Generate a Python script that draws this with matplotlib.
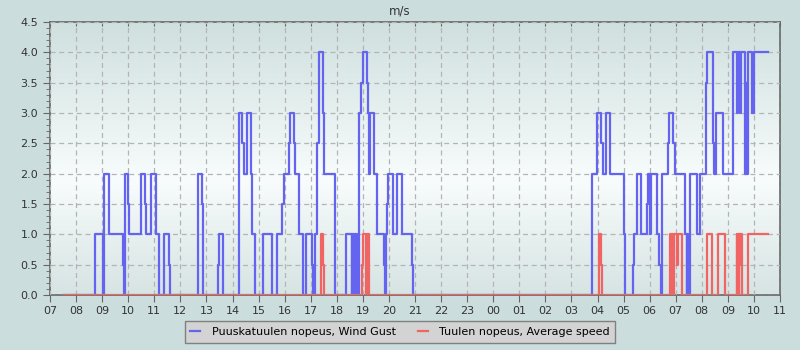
import numpy as np
import pandas as pd
import matplotlib
matplotlib.use("Agg")
import matplotlib.pyplot as plt
import matplotlib.dates as mdates
from matplotlib.colors import LinearSegmentedColormap
from matplotlib.ticker import MultipleLocator

# step data: "DD HH:MM" (day 01 / 02) and value in m/s
gust_times = [
    "01 07:32", "01 08:43", "01 09:02", "01 09:05", "01 09:16", "01 09:48", "01 09:50",
    "01 09:52", "01 10:00", "01 10:02", "01 10:30", "01 10:39", "01 10:42", "01 10:53",
    "01 11:04", "01 11:10", "01 11:23", "01 11:33", "01 11:36", "01 12:41", "01 12:50",
    "01 12:53", "01 13:26", "01 13:28", "01 13:38", "01 14:14", "01 14:23", "01 14:26",
    "01 14:33", "01 14:43", "01 14:45", "01 14:52", "01 15:10", "01 15:31", "01 15:42",
    "01 15:55", "01 15:59", "01 16:10", "01 16:12", "01 16:22", "01 16:24", "01 16:33",
    "01 16:43", "01 16:48", "01 17:02", "01 17:05", "01 17:11", "01 17:15", "01 17:18",
    "01 17:29", "01 17:31", "01 17:57", "01 18:22", "01 18:34", "01 18:36", "01 18:40",
    "01 18:42", "01 18:47", "01 18:50", "01 18:52", "01 18:56", "01 19:00", "01 19:09",
    "01 19:11", "01 19:13", "01 19:16", "01 19:26", "01 19:33", "01 19:49", "01 19:51",
    "01 19:53", "01 19:56", "01 19:59", "01 20:10", "01 20:19", "01 20:30", "01 20:53",
    "01 20:56",
    "02 03:48", "02 03:58", "02 04:09", "02 04:12", "02 04:19", "02 04:29", "02 05:00",
    "02 05:04", "02 05:21", "02 05:24", "02 05:30", "02 05:40", "02 05:54", "02 05:57",
    "02 06:01", "02 06:03", "02 06:17", "02 06:22", "02 06:25", "02 06:29", "02 06:43",
    "02 06:45", "02 06:54", "02 06:58", "02 07:21", "02 07:25", "02 07:27", "02 07:29",
    "02 07:32", "02 07:49", "02 07:55", "02 08:09", "02 08:12", "02 08:26", "02 08:28",
    "02 08:32", "02 08:49", "02 09:12", "02 09:22", "02 09:24", "02 09:27", "02 09:30",
    "02 09:40", "02 09:42", "02 09:44", "02 09:46", "02 09:55", "02 10:00", "02 10:32",
]
gust_values = [
    0, 1.0, 0, 2.0, 1.0, 0.5, 0,
    2.0, 1.5, 1.0, 2.0, 1.5, 1.0, 2.0,
    1.0, 0, 1.0, 0.5, 0, 2.0, 1.5,
    0, 0.5, 1.0, 0, 3.0, 2.5, 2.0,
    3.0, 2.0, 1.0, 0, 1.0, 0, 1.0,
    1.5, 2.0, 2.5, 3.0, 2.5, 2.0, 1.0,
    0, 1.0, 0.5, 0, 1.0, 2.5, 4.0,
    3.0, 2.0, 0, 1.0, 0, 1.0, 0,
    1.0, 0, 1.0, 3.0, 3.5, 4.0, 3.5,
    3.0, 2.0, 3.0, 2.0, 1.0, 0.5, 0,
    1.0, 1.5, 2.0, 1.0, 2.0, 1.0, 0.5,
    0,
    2.0, 3.0, 2.5, 2.0, 3.0, 2.0, 1.0,
    0, 0.5, 1.0, 2.0, 1.0, 1.5, 2.0,
    1.0, 2.0, 1.0, 0.5, 0, 2.0, 2.5,
    3.0, 2.5, 2.0, 1.0, 0, 1.0, 0,
    2.0, 1.0, 2.0, 3.5, 4.0, 2.5, 2.0,
    3.0, 2.0, 4.0, 3.0, 4.0, 3.0, 4.0,
    2.0, 3.5, 2.0, 4.0, 3.0, 4.0, 4.0,
]

avg_times = [
    "01 07:32", "01 17:24", "01 17:28", "01 17:31", "01 18:57", "01 19:00", "01 19:07",
    "01 19:09", "01 19:14", "02 04:04", "02 04:08", "02 04:11", "02 06:47", "02 06:49",
    "02 06:51", "02 06:53", "02 06:56", "02 07:03", "02 07:05", "02 07:14", "02 08:11",
    "02 08:24", "02 08:37", "02 08:38", "02 08:54", "02 09:20", "02 09:22", "02 09:23",
    "02 09:25", "02 09:26", "02 09:27", "02 09:29", "02 09:33", "02 09:46", "02 10:32",
]
avg_values = [
    0, 1.0, 0.5, 0, 0.5, 1.0, 0,
    1.0, 0, 1.0, 0.5, 0, 1.0, 0,
    1.0, 0, 1.0, 0.5, 1.0, 0, 1.0,
    0, 0.5, 1.0, 0, 1.0, 0, 1.0,
    0, 1.0, 0.5, 1.0, 0, 1.0, 1.0,
]

labels = ["Puuskatuulen nopeus, Wind Gust", "Tuulen nopeus, Average speed"]


def parse(ts):
    return pd.to_datetime(["2024-05-" + t for t in ts])


fig = plt.figure(figsize=(8, 3.5), dpi=100, facecolor="#cbdedd")
ax = fig.add_axes([50 / 800, 55 / 350, 730 / 800, 273 / 350])

# vertical background gradient of the plot area
cmap = LinearSegmentedColormap.from_list(
    "bg", [(0, "#d6e4e3"), (0.42, "#f8fcfc"), (1, "#cfe0df")])
grad = np.linspace(0, 1, 256).reshape(-1, 1)
ax.imshow(grad, extent=[0, 1, 0, 1], transform=ax.transAxes, aspect="auto",
          cmap=cmap, origin="lower", zorder=0)

ax.step(parse(gust_times), gust_values, where="post", color="#6464f0", lw=1.6,
        label=labels[0], zorder=3)
ax.step(parse(avg_times), avg_values, where="post", color="#f06464", lw=1.6,
        label=labels[1], zorder=4)

ax.set_xlim(pd.Timestamp("2024-05-01 07:00"), pd.Timestamp("2024-05-02 11:00"))
ax.set_ylim(0, 4.5)
ax.xaxis.set_major_locator(mdates.HourLocator())
ax.xaxis.set_major_formatter(mdates.DateFormatter("%H"))
ax.yaxis.set_major_locator(MultipleLocator(0.5))
ax.yaxis.set_minor_locator(MultipleLocator(0.1))
ax.yaxis.set_major_formatter(plt.FormatStrFormatter("%.1f"))

ax.grid(True, which="major", color="#b4b4b4", ls=(0, (4, 3)), lw=0.9, zorder=1)
ax.set_axisbelow(False)
for s in ax.spines.values():
    s.set_color("#666666")
    s.set_linewidth(1.2)
ax.tick_params(axis="both", which="major", labelsize=8, colors="#666666",
               labelcolor="#333333", length=5)
ax.tick_params(axis="y", which="minor", length=3, colors="#666666")
ax.tick_params(axis="x", which="major", pad=3)

# short hour ticks along the top edge, pointing inwards
top = ax.secondary_xaxis("top")
top.xaxis.set_major_locator(mdates.HourLocator())
top.tick_params(direction="in", length=3, colors="#666666", labeltop=False)
top.spines["top"].set_visible(False)

fig.text(0.5, 0.97, "m/s", ha="center", va="center", fontsize=8.5, color="#333333")

leg = fig.legend(loc="center", bbox_to_anchor=(400 / 800, 1 - 332 / 350), ncol=2,
                 fontsize=8, frameon=True, fancybox=False, handlelength=0.9,
                 columnspacing=2.0, handletextpad=1.0, borderpad=0.5)
leg.get_frame().set_facecolor("#d3d3d3")
leg.get_frame().set_edgecolor("#808080")
leg.get_frame().set_alpha(1)

fig.savefig("out.png", dpi=100, facecolor=fig.get_facecolor())
